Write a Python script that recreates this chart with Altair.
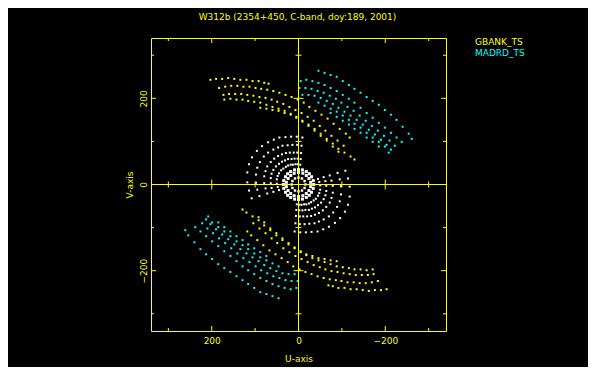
import altair as alt
import pandas as pd

TITLE = "W312b (2354+450, C-band, doy:189, 2001)"
STATIONS = ["GBANK_TS", "MADRD_TS", "other"]
COLORS = ["#FFFF00", "#00FFFF", "#FFFFFF"]
X_TITLE = "U-axis"
Y_TITLE = "V-axis"
LABEL_VALUES = [-200, 0, 200]
MAJOR_TICKS = [-200, 0, 200]
MINOR_TICKS = [-300, -100, 100, 300]
CROSS_MAJOR = [-200, 200]
CROSS_MINOR = [-300, -100, 100, 300]

# ---- GBANK_TS tracks (upper half) ----
GB_U1 = [203, 190, 176, 162, 148, 134, 120, 106, 92, 79, 69]
GB_V1 = [243, 245, 245, 247, 245, 243, 243, 240, 240, 236, 234]
GB_U2 = [183, 169, 155, 141, 127, 113, 99, 86, 72, 58, 44, 30, 16, 2, -12, -25, -39, -53, -67, -81, -95, -109, -118]
GB_V2 = [224, 227, 229, 229, 227, 227, 224, 222, 220, 217, 213, 208, 203, 197, 190, 180, 171, 162, 153, 141, 129, 118, 109]
GB_U3 = [173, 160, 146, 132, 118, 104, 90, 76, 62, 49, 35, 21, 7, -7, -21, -35, -49, -62, -76, -90, -104]
GB_V3 = [208, 210, 210, 210, 208, 206, 203, 201, 197, 192, 187, 180, 173, 166, 157, 148, 136, 125, 113, 102, 90]
GB_U4 = [171, 157, 143, 129, 116, 102, 88, 74, 60, 46, 32, 18, 5, -9, -23, -37, -51, -65, -79, -92, -106, -120, -129]
GB_V4 = [197, 199, 197, 197, 194, 192, 190, 185, 180, 176, 171, 164, 157, 148, 139, 129, 118, 106, 95, 83, 74, 65, 58]
GB_U5 = [88, 74, 60, 46, 32, 18, 5, -9, -23, -37, -51, -65, -79, -92]
GB_V5 = [178, 176, 173, 171, 166, 162, 155, 146, 136, 125, 113, 102, 88, 76]
# ---- GBANK_TS tracks (lower half, conjugate points) ----
GB_U1C = [-203, -190, -176, -162, -148, -134, -120, -106, -92, -79, -69]
GB_V1C = [-243, -245, -245, -247, -245, -243, -243, -240, -240, -236, -234]
GB_U2C = [-183, -169, -155, -141, -127, -113, -99, -86, -72, -58, -44, -30, -16, -2, 12, 25, 39, 53, 67, 81, 95, 109, 118]
GB_V2C = [-224, -227, -229, -229, -227, -227, -224, -222, -220, -217, -213, -208, -203, -197, -190, -180, -171, -162, -153, -141, -129, -118, -109]
GB_U3C = [-173, -160, -146, -132, -118, -104, -90, -76, -62, -49, -35, -21, -7, 7, 21, 35, 49, 62, 76, 90, 104]
GB_V3C = [-208, -210, -210, -210, -208, -206, -203, -201, -197, -192, -187, -180, -173, -166, -157, -148, -136, -125, -113, -102, -90]
GB_U4C = [-171, -157, -143, -129, -116, -102, -88, -74, -60, -46, -32, -18, -5, 9, 23, 37, 51, 65, 79, 92, 106, 120, 129]
GB_V4C = [-197, -199, -197, -197, -194, -192, -190, -185, -180, -176, -171, -164, -157, -148, -139, -129, -118, -106, -95, -83, -74, -65, -58]
GB_U5C = [-88, -74, -60, -46, -32, -18, -5, 9, 23, 37, 51, 65, 79, 92]
GB_V5C = [-178, -176, -173, -171, -166, -162, -155, -146, -136, -125, -113, -102, -88, -76]

# ---- MADRD_TS tracks (upper half) ----
MD_U1 = [-46, -60, -74, -88, -102, -116, -129, -143, -157, -171, -185, -199, -213, -226, -240, -254, -261]
MD_V1 = [264, 259, 254, 250, 240, 231, 222, 213, 203, 194, 185, 173, 162, 150, 134, 118, 106]
MD_U2 = [-5, -18, -32, -46, -60, -74, -88, -102, -116, -129, -143, -157, -171, -185, -199, -213, -226, -238]
MD_V2 = [240, 243, 240, 236, 231, 224, 217, 208, 199, 190, 178, 166, 155, 143, 132, 120, 109, 99]
MD_U3 = [-2, -16, -30, -44, -58, -72, -86, -99, -113, -127, -141, -155, -169, -183, -197, -210, -222]
MD_V3 = [224, 224, 222, 217, 213, 206, 199, 190, 180, 171, 160, 148, 136, 125, 113, 102, 90]
MD_U4 = [-9, -23, -37, -51, -65, -79, -92, -106, -120, -134, -148, -162, -176, -190, -203, -213]
MD_V4 = [208, 208, 206, 201, 194, 187, 178, 169, 160, 150, 139, 127, 116, 104, 92, 81]
MD_U5 = [-46, -60, -74, -88, -102, -116, -129, -143, -157, -171, -185, -199, -208]
MD_V5 = [190, 183, 176, 169, 160, 150, 141, 132, 120, 109, 99, 88, 74]
MD_U6 = [-74, -88, -102, -116, -129, -143, -157, -171, -185]
MD_V6 = [166, 157, 148, 139, 129, 120, 109, 99, 88]
# ---- MADRD_TS tracks (lower half, conjugate points) ----
MD_U1C = [46, 60, 74, 88, 102, 116, 129, 143, 157, 171, 185, 199, 213, 226, 240, 254, 261]
MD_V1C = [-264, -259, -254, -250, -240, -231, -222, -213, -203, -194, -185, -173, -162, -150, -134, -118, -106]
MD_U2C = [5, 18, 32, 46, 60, 74, 88, 102, 116, 129, 143, 157, 171, 185, 199, 213, 226, 238]
MD_V2C = [-240, -243, -240, -236, -231, -224, -217, -208, -199, -190, -178, -166, -155, -143, -132, -120, -109, -99]
MD_U3C = [2, 16, 30, 44, 58, 72, 86, 99, 113, 127, 141, 155, 169, 183, 197, 210, 222]
MD_V3C = [-224, -224, -222, -217, -213, -206, -199, -190, -180, -171, -160, -148, -136, -125, -113, -102, -90]
MD_U4C = [9, 23, 37, 51, 65, 79, 92, 106, 120, 134, 148, 162, 176, 190, 203, 213]
MD_V4C = [-208, -208, -206, -201, -194, -187, -178, -169, -160, -150, -139, -127, -116, -104, -92, -81]
MD_U5C = [46, 60, 74, 88, 102, 116, 129, 143, 157, 171, 185, 199, 208]
MD_V5C = [-190, -183, -176, -169, -160, -150, -141, -132, -120, -109, -99, -88, -74]
MD_U6C = [74, 88, 102, 116, 129, 143, 157, 171, 185]
MD_V6C = [-166, -157, -148, -139, -129, -120, -109, -99, -88]

# ---- other baselines (white), arcs and conjugates ----
WH_U1 = [108, 114, 118, 118, 114, 107, 96, 84, 70, 57, 44, 30, 17, 4, -9]
WH_V1 = [-32, -14, 5, 28, 47, 63, 78, 89, 98, 104, 109, 110, 111, 111, 109]
WH_U1C = [-108, -114, -118, -118, -114, -107, -96, -84, -70, -57, -44, -30, -17, -4, 9]
WH_V1C = [32, 14, -5, -28, -47, -63, -78, -89, -98, -104, -109, -110, -111, -111, -109]
WH_U2 = [90, 95, 98, 98, 95, 89, 80, 70, 58, 47, 37, 25, 14, 3, -7]
WH_V2 = [-27, -12, 4, 23, 39, 52, 65, 74, 81, 86, 90, 91, 92, 92, 90]
WH_U2C = [-90, -95, -98, -98, -95, -89, -80, -70, -58, -47, -37, -25, -14, -3, 7]
WH_V2C = [27, 12, -4, -23, -39, -52, -65, -74, -81, -86, -90, -91, -92, -92, -90]
WH_U3 = [72, 76, 79, 79, 76, 72, 64, 56, 47, 38, 29, 20, 11, 3, -6]
WH_V3 = [-21, -9, 3, 19, 31, 42, 52, 60, 66, 70, 73, 74, 74, 74, 73]
WH_U3C = [-72, -76, -79, -79, -76, -72, -64, -56, -47, -38, -29, -20, -11, -3, 6]
WH_V3C = [21, 9, -3, -19, -31, -42, -52, -60, -66, -70, -73, -74, -74, -74, -73]
WH_U4 = [58, 62, 64, 64, 62, 58, 52, 45, 38, 31, 24, 16, 9, 2, -5]
WH_V4 = [-17, -8, 3, 15, 25, 34, 42, 48, 53, 56, 59, 59, 60, 60, 59]
WH_U4C = [-58, -62, -64, -64, -62, -58, -52, -45, -38, -31, -24, -16, -9, -2, 5]
WH_V4C = [17, 8, -3, -15, -25, -34, -42, -48, -53, -56, -59, -59, -60, -60, -59]
WH_U5 = [45, 48, 50, 50, 48, 45, 40, 35, 29, 24, 18, 13, 7, 2, -4]
WH_V5 = [-13, -6, 2, 12, 20, 26, 33, 37, 41, 44, 46, 46, 47, 47, 46]
WH_U5C = [-45, -48, -50, -50, -48, -45, -40, -35, -29, -24, -18, -13, -7, -2, 4]
WH_V5C = [13, 6, -2, -12, -20, -26, -33, -37, -41, -44, -46, -46, -47, -47, -46]
# short-baseline rings in the core
CORE_U1 = [35, 34, 30, 25, 18, 9, 0, -9, -18, -25, -30, -34, -35, -34, -30, -25, -18, -9, 0, 9, 18, 25, 30, 34]
CORE_V1 = [0, 9, 18, 25, 30, 34, 35, 34, 30, 25, 18, 9, 0, -9, -18, -25, -30, -34, -35, -34, -30, -25, -18, -9]
CORE_U2 = [28, 24, 18, 10, 0, -10, -18, -24, -28, -28, -24, -18, -10, 0, 10, 18, 24, 28]
CORE_V2 = [5, 14, 21, 26, 28, 26, 21, 14, 5, -5, -14, -21, -26, -28, -26, -21, -14, -5]
CORE_U3 = [16, 14, 8, 0, -8, -14, -16, -14, -8, 0, 8, 14]
CORE_V3 = [0, 8, 14, 16, 14, 8, 0, -8, -14, -16, -14, -8]

tracks = [
    ("other", 4, WH_U1, WH_V1), ("other", 4, WH_U1C, WH_V1C),
    ("other", 4, WH_U2, WH_V2), ("other", 4, WH_U2C, WH_V2C),
    ("other", 4, WH_U3, WH_V3), ("other", 4, WH_U3C, WH_V3C),
    ("other", 4, WH_U4, WH_V4), ("other", 4, WH_U4C, WH_V4C),
    ("other", 4, WH_U5, WH_V5), ("other", 4, WH_U5C, WH_V5C),
    ("other", 9, CORE_U1, CORE_V1), ("other", 9, CORE_U2, CORE_V2), ("other", 6, CORE_U3, CORE_V3),
    ("GBANK_TS", 4, GB_U1, GB_V1), ("GBANK_TS", 4, GB_U1C, GB_V1C),
    ("GBANK_TS", 4, GB_U2, GB_V2), ("GBANK_TS", 4, GB_U2C, GB_V2C),
    ("GBANK_TS", 4, GB_U3, GB_V3), ("GBANK_TS", 4, GB_U3C, GB_V3C),
    ("GBANK_TS", 4, GB_U4, GB_V4), ("GBANK_TS", 4, GB_U4C, GB_V4C),
    ("GBANK_TS", 4, GB_U5, GB_V5), ("GBANK_TS", 4, GB_U5C, GB_V5C),
    ("MADRD_TS", 4, MD_U1, MD_V1), ("MADRD_TS", 4, MD_U1C, MD_V1C),
    ("MADRD_TS", 4, MD_U2, MD_V2), ("MADRD_TS", 4, MD_U2C, MD_V2C),
    ("MADRD_TS", 4, MD_U3, MD_V3), ("MADRD_TS", 4, MD_U3C, MD_V3C),
    ("MADRD_TS", 4, MD_U4, MD_V4), ("MADRD_TS", 4, MD_U4C, MD_V4C),
    ("MADRD_TS", 4, MD_U5, MD_V5), ("MADRD_TS", 4, MD_U5C, MD_V5C),
    ("MADRD_TS", 4, MD_U6, MD_V6), ("MADRD_TS", 4, MD_U6C, MD_V6C),
]
rows = []
for st, sz, us, vs in tracks:
    for a, b in zip(us, vs):
        rows.append({"u": a, "v": b, "station": st, "dot": sz})
df = pd.DataFrame(rows)

YEL = "#FFFF00"
FONT = "DejaVu Sans"
W, H = 295, 293
xs = alt.Scale(domain=[-340, 340], reverse=True, nice=False, zero=False)
ys = alt.Scale(domain=[-340, 340], nice=False, zero=False)

XAX = alt.Axis(
    values=LABEL_VALUES, title=X_TITLE, domain=False, ticks=False, tickSize=0, grid=False,
    labelColor=YEL, labelFont=FONT, labelFontSize=9, labelPadding=5,
    titleColor=YEL, titleFont=FONT, titleFontSize=9, titleFontWeight="normal", titlePadding=9)
YAX = alt.Axis(
    values=LABEL_VALUES, title=Y_TITLE, domain=False, ticks=False, tickSize=0, grid=False,
    labelAngle=270, labelAlign="center", labelBaseline="bottom",
    labelColor=YEL, labelFont=FONT, labelFontSize=9, labelPadding=3,
    titleColor=YEL, titleFont=FONT, titleFontSize=9, titleFontWeight="normal", titlePadding=5)


def X(f):
    return alt.X(f, type="quantitative", scale=xs, axis=XAX, title=X_TITLE)


def Y(f):
    return alt.Y(f, type="quantitative", scale=ys, axis=YAX, title=Y_TITLE)


points = alt.Chart(df).mark_square(opacity=1, strokeWidth=0).encode(
    x=X("u"), y=Y("v"),
    color=alt.Color("station:N", scale=alt.Scale(domain=STATIONS, range=COLORS), legend=None),
    size=alt.Size("dot:Q", scale=None, legend=None),
)

cross_v = alt.Chart(pd.DataFrame({"z": [0]})).mark_rule(color=YEL, strokeWidth=1).encode(x=X("z"))
cross_h = alt.Chart(pd.DataFrame({"z": [0]})).mark_rule(color=YEL, strokeWidth=1).encode(y=Y("z"))

maj = pd.DataFrame({"t": MAJOR_TICKS})
mnr = pd.DataFrame({"t": MINOR_TICKS})


def frame_ticks(data, L):
    r = alt.Chart(data).mark_rule(color=YEL, strokeWidth=1)
    return [
        r.encode(x=X("t"), y=alt.value(0), y2=alt.value(L)),
        r.encode(x=X("t"), y=alt.value(H), y2=alt.value(H - L)),
        r.encode(y=Y("t"), x=alt.value(0), x2=alt.value(L)),
        r.encode(y=Y("t"), x=alt.value(W), x2=alt.value(W - L)),
    ]


def cross_ticks(vals, L):
    d = pd.DataFrame({"t": vals, "z": [0] * len(vals)})
    return [
        alt.Chart(d).mark_tick(color=YEL, orient="vertical", size=L, thickness=1, opacity=1).encode(
            x=X("t"), y=Y("z")),
        alt.Chart(d).mark_tick(color=YEL, orient="horizontal", size=L, thickness=1, opacity=1).encode(
            x=X("z"), y=Y("t")),
    ]


title = alt.Chart(pd.DataFrame({"s": [TITLE]})).mark_text(
    color=YEL, font=FONT, fontSize=9, align="center", baseline="middle").encode(
    text="s:N", x=alt.value(146.5), y=alt.value(-21.5))
leg1 = alt.Chart(pd.DataFrame({"s": [STATIONS[0]]})).mark_text(
    color=COLORS[0], font=FONT, fontSize=9, align="left", baseline="middle").encode(
    text="s:N", x=alt.value(324), y=alt.value(4))
leg2 = alt.Chart(pd.DataFrame({"s": [STATIONS[1]]})).mark_text(
    color=COLORS[1], font=FONT, fontSize=9, align="left", baseline="middle").encode(
    text="s:N", x=alt.value(324), y=alt.value(14.5))

layers = [points, cross_v, cross_h] + frame_ticks(maj, 5) + frame_ticks(mnr, 3) \
    + cross_ticks(CROSS_MAJOR, 10) + cross_ticks(CROSS_MINOR, 6) + [title, leg1, leg2]

chart = alt.layer(*layers).properties(
    width=W, height=H,
    padding={"left": 143, "top": 30, "right": 142, "bottom": 36},
    autosize=alt.AutoSizeParams(type="none"),
).configure(background="black").configure_view(stroke=YEL, strokeWidth=1)

chart.save("out.html", embed_options={"renderer": "svg", "actions": False})
